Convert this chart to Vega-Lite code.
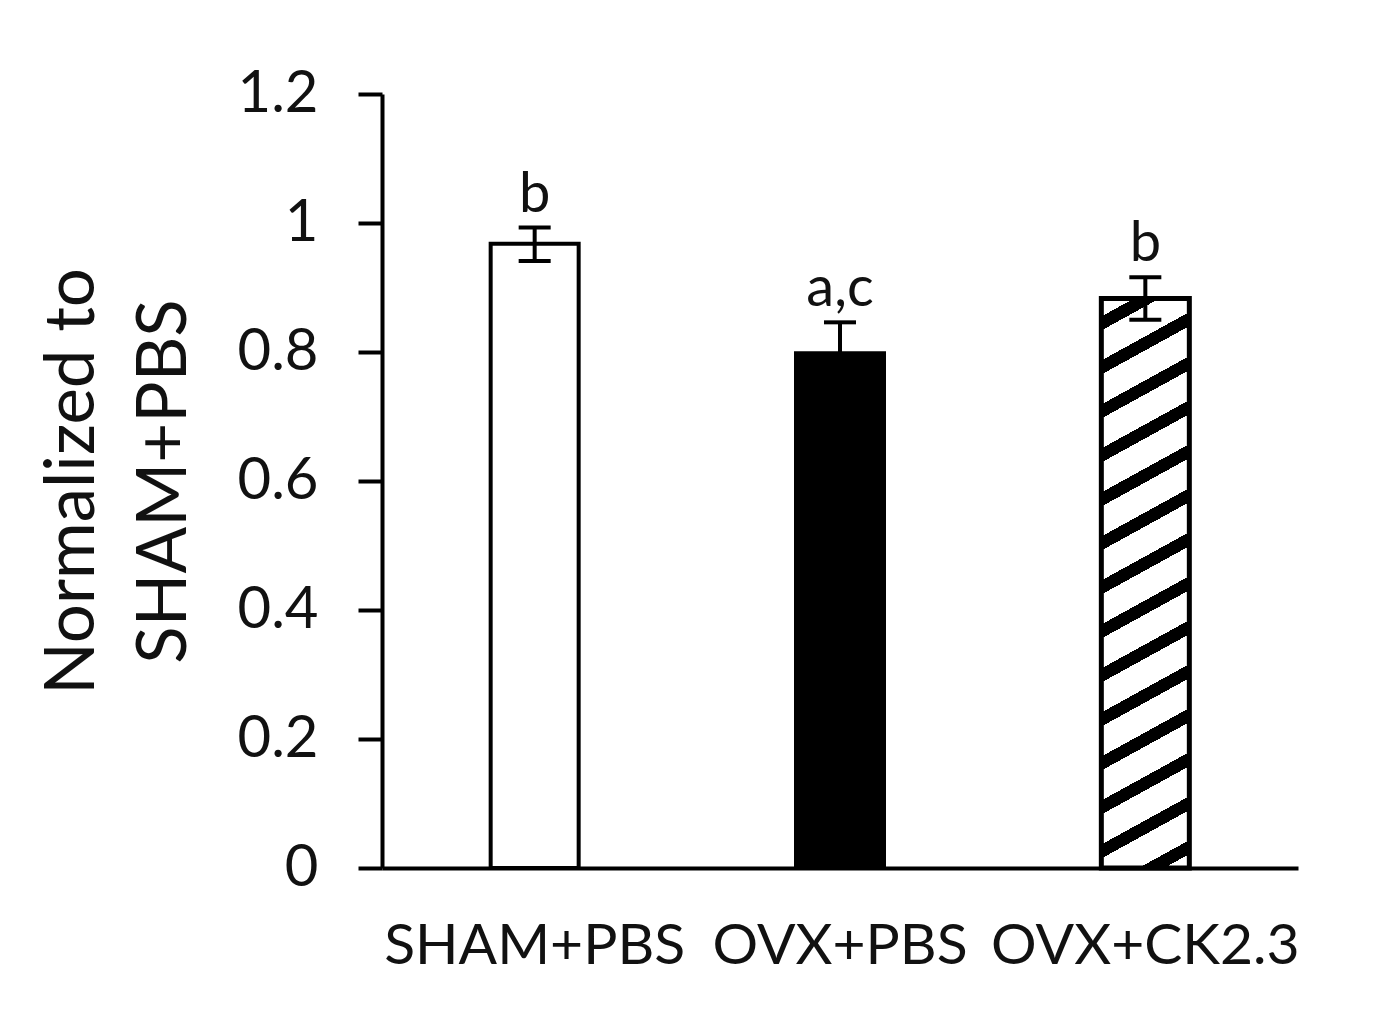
{
  "$schema": "https://vega.github.io/schema/vega-lite/v6.json",
  "width": 916,
  "height": 774,
  "autosize": {"type": "none"},
  "padding": {"left": 382, "top": 94, "right": 84, "bottom": 159},
  "background": "white",
  "config": {
    "view": {"stroke": null},
    "font": "Lato",
    "axis": {"grid": false, "labelColor": "#111", "titleColor": "#111", "domainColor": "black", "tickColor": "black", "labelFont": "Lato", "titleFont": "Lato", "labelLimit": 0}
  },
  "data": {
    "values": [
      {"group": "SHAM+PBS", "value": 0.968, "lo": 0.941, "hi": 0.993, "sig": "b"},
      {"group": "OVX+PBS", "value": 0.798, "lo": 0.750, "hi": 0.846, "sig": "a,c"},
      {"group": "OVX+CK2.3", "value": 0.883, "lo": 0.850, "hi": 0.916, "sig": "b"}
    ]
  },
  "encoding": {
    "x": {
      "field": "group",
      "type": "nominal",
      "sort": null,
      "scale": {"paddingInner": 0, "paddingOuter": 0},
      "axis": {
        "title": null,
        "labelAngle": 0,
        "ticks": false,
        "domainWidth": 4,
        "labelFontSize": 57,
        "labelPadding": 50,
        "labelLimit": 0
      }
    }
  },
  "layer": [
    {
      "mark": {"type": "bar", "width": 88, "stroke": "black"},
      "encoding": {
        "y": {
          "field": "value",
          "type": "quantitative",
          "scale": {"domain": [0, 1.2], "nice": false},
          "axis": {
            "title": ["Normalized to", "SHAM+PBS"],
            "values": [0, 0.2, 0.4, 0.6, 0.8, 1, 1.2],
            "format": "~g",
            "domainWidth": 4,
            "tickWidth": 4,
            "tickSize": 24,
            "labelFontSize": 58,
            "labelPadding": 40,
            "titleFontSize": 69,
            "titleFontWeight": "normal",
            "titleLineHeight": 92,
            "titlePadding": 38
          }
        },
        "strokeWidth": {
          "condition": {"test": "datum.group === 'OVX+CK2.3'", "value": 5},
          "value": 4
        },
        "fill": {
          "condition": [
            {"test": "datum.group === 'OVX+PBS'", "value": "black"},
            {"test": "datum.group === 'OVX+CK2.3'", "value": {
              "gradient": "linear", "x1": 0, "y1": 0, "x2": 0.0916, "y2": 1.0774,
              "stops": [
                {"offset": 0, "color": "white"},
                {"offset": 0.0291, "color": "white"}, {"offset": 0.0291, "color": "black"}, {"offset": 0.0518, "color": "black"}, {"offset": 0.0518, "color": "white"},
                {"offset": 0.1003, "color": "white"}, {"offset": 0.1003, "color": "black"}, {"offset": 0.1230, "color": "black"}, {"offset": 0.1230, "color": "white"},
                {"offset": 0.1715, "color": "white"}, {"offset": 0.1715, "color": "black"}, {"offset": 0.1942, "color": "black"}, {"offset": 0.1942, "color": "white"},
                {"offset": 0.2427, "color": "white"}, {"offset": 0.2427, "color": "black"}, {"offset": 0.2654, "color": "black"}, {"offset": 0.2654, "color": "white"},
                {"offset": 0.3139, "color": "white"}, {"offset": 0.3139, "color": "black"}, {"offset": 0.3366, "color": "black"}, {"offset": 0.3366, "color": "white"},
                {"offset": 0.3851, "color": "white"}, {"offset": 0.3851, "color": "black"}, {"offset": 0.4078, "color": "black"}, {"offset": 0.4078, "color": "white"},
                {"offset": 0.4563, "color": "white"}, {"offset": 0.4563, "color": "black"}, {"offset": 0.4790, "color": "black"}, {"offset": 0.4790, "color": "white"},
                {"offset": 0.5275, "color": "white"}, {"offset": 0.5275, "color": "black"}, {"offset": 0.5502, "color": "black"}, {"offset": 0.5502, "color": "white"},
                {"offset": 0.5987, "color": "white"}, {"offset": 0.5987, "color": "black"}, {"offset": 0.6214, "color": "black"}, {"offset": 0.6214, "color": "white"},
                {"offset": 0.6699, "color": "white"}, {"offset": 0.6699, "color": "black"}, {"offset": 0.6926, "color": "black"}, {"offset": 0.6926, "color": "white"},
                {"offset": 0.7411, "color": "white"}, {"offset": 0.7411, "color": "black"}, {"offset": 0.7638, "color": "black"}, {"offset": 0.7638, "color": "white"},
                {"offset": 0.8123, "color": "white"}, {"offset": 0.8123, "color": "black"}, {"offset": 0.8350, "color": "black"}, {"offset": 0.8350, "color": "white"},
                {"offset": 0.8835, "color": "white"}, {"offset": 0.8835, "color": "black"}, {"offset": 0.9061, "color": "black"}, {"offset": 0.9061, "color": "white"},
                {"offset": 0.9547, "color": "white"}, {"offset": 0.9547, "color": "black"}, {"offset": 0.9773, "color": "black"}, {"offset": 0.9773, "color": "white"},
                {"offset": 1, "color": "white"}
              ]
            }}
          ],
          "value": "white"
        }
      }
    },
    {
      "mark": {"type": "rule", "stroke": "black", "strokeWidth": 4},
      "encoding": {
        "y": {"field": "lo", "type": "quantitative"},
        "y2": {"field": "hi"}
      }
    },
    {
      "mark": {"type": "tick", "color": "black", "size": 32, "thickness": 4, "opacity": 1},
      "encoding": {"y": {"field": "hi", "type": "quantitative"}}
    },
    {
      "mark": {"type": "tick", "color": "black", "size": 32, "thickness": 4, "opacity": 1},
      "encoding": {"y": {"field": "lo", "type": "quantitative"}}
    },
    {
      "mark": {"type": "text", "fontSize": 56, "font": "Lato", "color": "#111", "baseline": "alphabetic", "dy": -16},
      "encoding": {
        "y": {"field": "hi", "type": "quantitative"},
        "text": {"field": "sig"}
      }
    }
  ]
}
